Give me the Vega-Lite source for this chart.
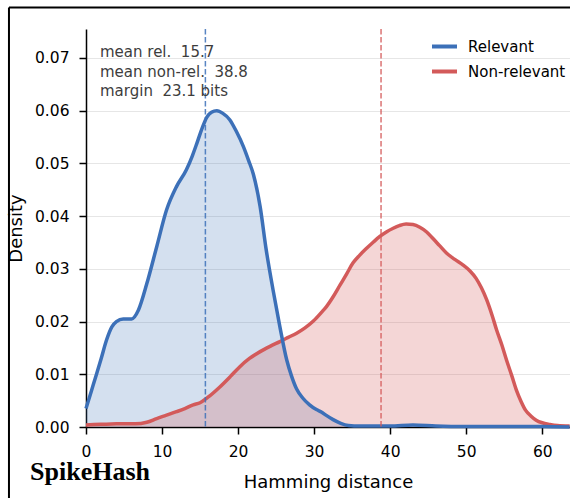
{
  "$schema": "https://vega.github.io/schema/vega-lite/v6.json",
  "width": 484,
  "height": 398,
  "autosize": {"type": "none"},
  "padding": {"left": 86, "top": 29, "right": 0, "bottom": 71},
  "background": "white",
  "config": {
    "view": {"stroke": null},
    "font": "DejaVu Sans",
    "axis": {
      "labelFont": "DejaVu Sans",
      "titleFont": "DejaVu Sans",
      "labelFontSize": 15.5,
      "titleFontSize": 18,
      "titleFontWeight": "normal",
      "labelColor": "#000000",
      "titleColor": "#000000",
      "domainColor": "#000000",
      "domainWidth": 1.5,
      "tickColor": "#000000",
      "tickWidth": 1.5,
      "tickSize": 7,
      "gridColor": "#e6e6e6",
      "gridWidth": 1
    }
  },
  "datasets": {
    "kde": [
      {"group": "Relevant", "x": 0, "density": 0.0035},
      {"group": "Relevant", "x": 0.7, "density": 0.0068},
      {"group": "Relevant", "x": 1.4, "density": 0.0101},
      {"group": "Relevant", "x": 2.0, "density": 0.013},
      {"group": "Relevant", "x": 2.7, "density": 0.0165},
      {"group": "Relevant", "x": 3.4, "density": 0.019},
      {"group": "Relevant", "x": 4.0, "density": 0.02},
      {"group": "Relevant", "x": 4.9, "density": 0.0205},
      {"group": "Relevant", "x": 6.0, "density": 0.0205},
      {"group": "Relevant", "x": 6.9, "density": 0.0222},
      {"group": "Relevant", "x": 8.0, "density": 0.0272},
      {"group": "Relevant", "x": 9.3, "density": 0.0342},
      {"group": "Relevant", "x": 10.6, "density": 0.0412},
      {"group": "Relevant", "x": 11.9, "density": 0.0456},
      {"group": "Relevant", "x": 13.2, "density": 0.0488},
      {"group": "Relevant", "x": 14.0, "density": 0.0515},
      {"group": "Relevant", "x": 14.6, "density": 0.0539},
      {"group": "Relevant", "x": 15.3, "density": 0.0568},
      {"group": "Relevant", "x": 15.9, "density": 0.0588},
      {"group": "Relevant", "x": 16.5, "density": 0.0597},
      {"group": "Relevant", "x": 17.2, "density": 0.06},
      {"group": "Relevant", "x": 18.0, "density": 0.0595},
      {"group": "Relevant", "x": 18.9, "density": 0.0583},
      {"group": "Relevant", "x": 19.8, "density": 0.056},
      {"group": "Relevant", "x": 20.7, "density": 0.0532},
      {"group": "Relevant", "x": 21.4, "density": 0.0505},
      {"group": "Relevant", "x": 22.0, "density": 0.048},
      {"group": "Relevant", "x": 22.9, "density": 0.0418},
      {"group": "Relevant", "x": 23.7, "density": 0.0336},
      {"group": "Relevant", "x": 24.6, "density": 0.026},
      {"group": "Relevant", "x": 25.5, "density": 0.019},
      {"group": "Relevant", "x": 26.4, "density": 0.0127},
      {"group": "Relevant", "x": 27.0, "density": 0.0098},
      {"group": "Relevant", "x": 27.7, "density": 0.0072},
      {"group": "Relevant", "x": 28.5, "density": 0.0055},
      {"group": "Relevant", "x": 29.4, "density": 0.0042},
      {"group": "Relevant", "x": 30.3, "density": 0.0033},
      {"group": "Relevant", "x": 31.0, "density": 0.0028},
      {"group": "Relevant", "x": 31.6, "density": 0.0022},
      {"group": "Relevant", "x": 32.5, "density": 0.0014},
      {"group": "Relevant", "x": 33.5, "density": 0.0007},
      {"group": "Relevant", "x": 34.5, "density": 0.0003},
      {"group": "Relevant", "x": 36.0, "density": 0.0002},
      {"group": "Relevant", "x": 40.0, "density": 0.0002},
      {"group": "Relevant", "x": 43.0, "density": 0.0004},
      {"group": "Relevant", "x": 46.0, "density": 0.0002},
      {"group": "Relevant", "x": 50.0, "density": 0.0001},
      {"group": "Relevant", "x": 60.0, "density": 0.0001},
      {"group": "Relevant", "x": 63.6, "density": 0.0},
      {"group": "Non-relevant", "x": 0, "density": 0.0004},
      {"group": "Non-relevant", "x": 2.0, "density": 0.0005},
      {"group": "Non-relevant", "x": 4.0, "density": 0.0006},
      {"group": "Non-relevant", "x": 6.5, "density": 0.0006},
      {"group": "Non-relevant", "x": 8.0, "density": 0.0009},
      {"group": "Non-relevant", "x": 9.3, "density": 0.0016},
      {"group": "Non-relevant", "x": 10.5, "density": 0.0022},
      {"group": "Non-relevant", "x": 11.9, "density": 0.0029},
      {"group": "Non-relevant", "x": 13.0, "density": 0.0035},
      {"group": "Non-relevant", "x": 14.1, "density": 0.0042},
      {"group": "Non-relevant", "x": 15.0, "density": 0.0046},
      {"group": "Non-relevant", "x": 16.0, "density": 0.0056},
      {"group": "Non-relevant", "x": 17.6, "density": 0.0076},
      {"group": "Non-relevant", "x": 19.0, "density": 0.0096},
      {"group": "Non-relevant", "x": 20.2, "density": 0.0114},
      {"group": "Non-relevant", "x": 21.5, "density": 0.013},
      {"group": "Non-relevant", "x": 22.9, "density": 0.0143},
      {"group": "Non-relevant", "x": 24.2, "density": 0.0153},
      {"group": "Non-relevant", "x": 25.5, "density": 0.0162},
      {"group": "Non-relevant", "x": 26.6, "density": 0.017},
      {"group": "Non-relevant", "x": 27.7, "density": 0.0178},
      {"group": "Non-relevant", "x": 28.8, "density": 0.0188},
      {"group": "Non-relevant", "x": 29.9, "density": 0.0201},
      {"group": "Non-relevant", "x": 31.0, "density": 0.0218},
      {"group": "Non-relevant", "x": 31.6, "density": 0.0228},
      {"group": "Non-relevant", "x": 32.5, "density": 0.0247},
      {"group": "Non-relevant", "x": 33.4, "density": 0.0269},
      {"group": "Non-relevant", "x": 34.3, "density": 0.0291},
      {"group": "Non-relevant", "x": 35.1, "density": 0.0311},
      {"group": "Non-relevant", "x": 36.0, "density": 0.0326},
      {"group": "Non-relevant", "x": 36.9, "density": 0.0339},
      {"group": "Non-relevant", "x": 37.8, "density": 0.0351},
      {"group": "Non-relevant", "x": 38.6, "density": 0.0361},
      {"group": "Non-relevant", "x": 39.5, "density": 0.037},
      {"group": "Non-relevant", "x": 40.4, "density": 0.0377},
      {"group": "Non-relevant", "x": 41.2, "density": 0.0382},
      {"group": "Non-relevant", "x": 42.1, "density": 0.0385},
      {"group": "Non-relevant", "x": 43.0, "density": 0.0384},
      {"group": "Non-relevant", "x": 43.9, "density": 0.0379},
      {"group": "Non-relevant", "x": 44.8, "density": 0.037},
      {"group": "Non-relevant", "x": 45.6, "density": 0.0358},
      {"group": "Non-relevant", "x": 46.5, "density": 0.0344},
      {"group": "Non-relevant", "x": 47.4, "density": 0.033},
      {"group": "Non-relevant", "x": 48.5, "density": 0.0318},
      {"group": "Non-relevant", "x": 49.6, "density": 0.0307},
      {"group": "Non-relevant", "x": 50.5, "density": 0.0296},
      {"group": "Non-relevant", "x": 51.3, "density": 0.0282},
      {"group": "Non-relevant", "x": 52.0, "density": 0.0264},
      {"group": "Non-relevant", "x": 52.7, "density": 0.0241},
      {"group": "Non-relevant", "x": 53.4, "density": 0.0212},
      {"group": "Non-relevant", "x": 54.0, "density": 0.0184},
      {"group": "Non-relevant", "x": 54.7, "density": 0.0155},
      {"group": "Non-relevant", "x": 55.3, "density": 0.0127},
      {"group": "Non-relevant", "x": 56.0, "density": 0.0097},
      {"group": "Non-relevant", "x": 56.6, "density": 0.007},
      {"group": "Non-relevant", "x": 57.2, "density": 0.0049},
      {"group": "Non-relevant", "x": 57.8, "density": 0.0032},
      {"group": "Non-relevant", "x": 58.5, "density": 0.0021},
      {"group": "Non-relevant", "x": 59.2, "density": 0.0013},
      {"group": "Non-relevant", "x": 60.0, "density": 0.0008},
      {"group": "Non-relevant", "x": 61.0, "density": 0.0005},
      {"group": "Non-relevant", "x": 62.0, "density": 0.0003},
      {"group": "Non-relevant", "x": 63.6, "density": 0.0002}
    ],
    "means": [
      {"group": "Relevant", "mean": 15.7},
      {"group": "Non-relevant", "mean": 38.8}
    ]
  },
  "layer": [
    {
      "data": {"values": [{}]},
      "mark": {"type": "rule", "color": "#000000", "strokeWidth": 2},
      "encoding": {
        "x": {"datum": -10.13, "scale": {"domain": [0, 63.65]}},
        "y": {"datum": 0.0796, "scale": {"domain": [0, 0.0755]}},
        "y2": {"datum": -0.03}
      }
    },
    {
      "data": {"values": [{}]},
      "mark": {"type": "rule", "color": "#000000", "strokeWidth": 2},
      "encoding": {
        "x": {"datum": -10.13, "scale": {"domain": [0, 63.65]}},
        "x2": {"datum": 70},
        "y": {"datum": 0.0796, "scale": {"domain": [0, 0.0755]}}
      }
    },
    {
      "data": {"name": "kde"},
      "transform": [{"filter": "datum.group === 'Relevant'"}],
      "mark": {"type": "area", "interpolate": "monotone", "opacity": 0.22, "fill": "#3c70b8"},
      "encoding": {
        "x": {
          "field": "x", "type": "quantitative",
          "scale": {"domain": [0, 63.65], "nice": false, "zero": false},
          "axis": {"title": "Hamming distance", "values": [0, 10, 20, 30, 40, 50, 60], "grid": false, "labelPadding": 10, "titlePadding": 14, "labelFlush": false}
        },
        "y": {
          "field": "density", "type": "quantitative",
          "scale": {"domain": [0, 0.0755], "nice": false},
          "axis": {"title": "Density", "values": [0, 0.01, 0.02, 0.03, 0.04, 0.05, 0.06, 0.07], "format": ".2f", "grid": true, "labelPadding": 10, "titlePadding": 9}
        }
      }
    },
    {
      "data": {"name": "kde"},
      "transform": [{"filter": "datum.group === 'Non-relevant'"}],
      "mark": {"type": "area", "interpolate": "monotone", "opacity": 0.25, "fill": "#d35a5a"},
      "encoding": {
        "x": {"field": "x", "type": "quantitative"},
        "y": {"field": "density", "type": "quantitative"}
      }
    },
    {
      "data": {"name": "kde"},
      "transform": [{"filter": "datum.group === 'Non-relevant'"}],
      "mark": {"type": "line", "interpolate": "monotone", "strokeWidth": 3.5},
      "encoding": {
        "x": {"field": "x", "type": "quantitative"},
        "y": {"field": "density", "type": "quantitative"},
        "stroke": {
          "field": "group", "type": "nominal",
          "scale": {"domain": ["Relevant", "Non-relevant"], "range": ["#3c70b8", "#d35a5a"]},
          "legend": {
            "title": null, "orient": "none", "legendX": 344, "legendY": 3,
            "symbolType": "stroke", "symbolSize": 625, "symbolStrokeWidth": 4,
            "labelFont": "DejaVu Sans", "labelFontSize": 15, "labelColor": "#000000",
            "rowPadding": 2, "labelOffset": 9, "padding": 0
          }
        }
      }
    },
    {
      "data": {"name": "kde"},
      "transform": [{"filter": "datum.group === 'Relevant'"}],
      "mark": {"type": "line", "interpolate": "monotone", "strokeWidth": 3.5},
      "encoding": {
        "x": {"field": "x", "type": "quantitative"},
        "y": {"field": "density", "type": "quantitative"},
        "stroke": {"field": "group", "type": "nominal"}
      }
    },
    {
      "data": {"name": "means"},
      "transform": [{"filter": "datum.group === 'Relevant'"}],
      "mark": {"type": "rule", "strokeWidth": 1.5, "strokeDash": [5.5, 2.5], "opacity": 0.85, "color": "#3c70b8"},
      "encoding": {
        "x": {"field": "mean", "type": "quantitative"}
      }
    },
    {
      "data": {"name": "means"},
      "transform": [{"filter": "datum.group === 'Non-relevant'"}],
      "mark": {"type": "rule", "strokeWidth": 1.5, "strokeDash": [5.5, 2.5], "opacity": 0.85, "color": "#d35a5a"},
      "encoding": {
        "x": {"field": "mean", "type": "quantitative"}
      }
    },
    {
      "data": {"values": [{}]},
      "mark": {"type": "text", "align": "left", "baseline": "top", "fontSize": 15, "lineHeight": 19.5, "font": "DejaVu Sans", "color": "#3d3d3d"},
      "encoding": {
        "x": {"datum": 1.84},
        "y": {"datum": 0.0724},
        "text": {"value": ["mean rel. \u00a015.7", "mean non-rel. \u00a038.8", "margin \u00a023.1 bits"]}
      }
    },
    {
      "data": {"values": [{}]},
      "mark": {"type": "text", "align": "left", "baseline": "middle", "fontSize": 26, "font": "Liberation Serif", "fontWeight": "bold", "color": "#000000"},
      "encoding": {
        "x": {"datum": -7.36},
        "y": {"datum": -0.0085},
        "text": {"value": "SpikeHash"}
      }
    }
  ]
}
